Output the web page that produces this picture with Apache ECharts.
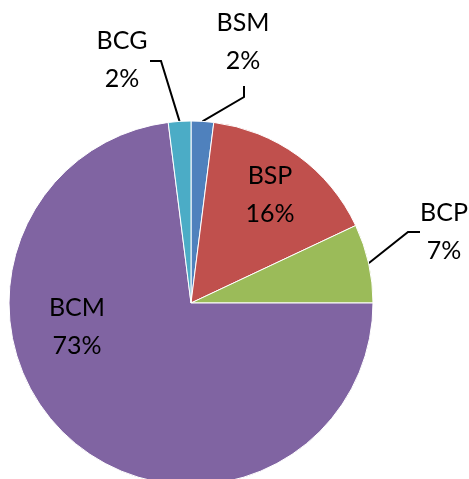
<!DOCTYPE html>
<html>
<head>
<meta charset="utf-8">
<script src="https://cdn.jsdelivr.net/npm/echarts@6/dist/echarts.min.js"></script>
<style>
html,body{margin:0;padding:0;background:#fff;}
#chart{width:469px;height:479px;}
</style>
</head>
<body>
<div id="chart"></div>
<script>
var categories = ['BSM', 'BSP', 'BCP', 'BCM', 'BCG'];
var percentValues = [2, 16, 7, 73, 2];
var sliceColors = ['#4F81BD', '#C0504D', '#9BBB59', '#8064A2', '#4BACC6'];

// label placement (layout/styling only)
var labelPlacement = {
  BSM: {x: 243, y: 42, line: [[244, 97], [244, 86]]},
  BSP: {x: 270, y: 195, line: null},
  BCP: {x: 444, y: 232, line: [[408, 232], [420, 232]]},
  BCM: {x: 77, y: 327, line: null},
  BCG: {x: 122, y: 60, line: [[161, 61], [150, 61]]}
};

var data = categories.map(function (c, i) {
  var item = {name: c, value: percentValues[i], itemStyle: {color: sliceColors[i]}};
  if (!labelPlacement[c].line) item.labelLine = {show: false};
  return item;
});

var chart = echarts.init(document.getElementById('chart'));
chart.setOption({
  animation: false,
  series: [{
    type: 'pie',
    center: [191, 303],
    radius: 182,
    startAngle: 90,
    clockwise: true,
    avoidLabelOverlap: false,
    itemStyle: {borderColor: '#ffffff', borderWidth: 1},
    label: {
      show: true,
      position: 'outside',
      formatter: '{b}\n{c}%',
      fontFamily: 'Lato',
      fontSize: 25,
      lineHeight: 38,
      color: '#000',
      align: 'center'
    },
    labelLine: {show: true, lineStyle: {color: '#000', width: 2}, length: 20, length2: 10},
    labelLayout: function (params) {
      var name = categories[params.dataIndex];
      var p = labelPlacement[name];
      var res = {x: p.x, y: p.y, align: 'center', verticalAlign: 'middle'};
      if (p.line && params.labelLinePoints) {
        res.labelLinePoints = [params.labelLinePoints[0], p.line[0], p.line[1]];
      }
      return res;
    },
    data: data
  }]
});
</script>
</body>
</html>
